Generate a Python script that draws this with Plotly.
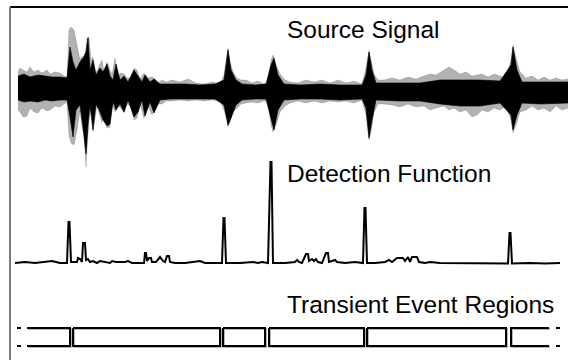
import plotly.graph_objects as go

# ---------------- data ----------------
# Source signal envelope: time (s), outer upper / lower amplitude
wave_t = [0.00,0.02,0.05,0.09,0.12,0.16,0.20,0.24,0.29,0.32,
          0.37,0.42,0.46,0.49,0.51,0.53,0.56,0.59,0.62,0.64,
          0.66,0.68,0.69,0.71,0.73,0.75,0.77,0.79,0.81,0.84,
          0.86,0.89,0.92,0.94,0.97,1.00,1.03,1.06,1.09,1.13,
          1.16,1.19,1.22,1.26,1.30,1.34,1.37,1.40,1.44,1.48,
          1.54,1.62,1.70,1.78,1.86,1.94,2.02,2.06,2.09,2.10,
          2.12,2.15,2.19,2.23,2.28,2.34,2.40,2.46,2.50,2.53,
          2.55,2.58,2.62,2.67,2.72,2.80,2.88,2.96,3.04,3.12,
          3.20,3.28,3.36,3.44,3.48,3.51,3.53,3.56,3.60,3.66,
          3.74,3.82,3.90,3.98,4.06,4.12,4.18,4.26,4.31,4.36,
          4.42,4.48,4.54,4.59,4.64,4.70,4.76,4.82,4.88,4.93,
          4.95,4.98,5.02,5.08,5.14,5.20,5.26,5.32,5.38,5.44,
          5.50]
wave_hi = [0.20,0.24,0.22,0.20,0.25,0.20,0.22,0.19,0.22,0.18,
           0.20,0.19,0.16,0.15,0.62,0.65,0.62,0.47,0.32,0.36,
           0.22,0.44,0.54,0.55,0.32,0.35,0.22,0.20,0.26,0.32,
           0.20,0.30,0.22,0.17,0.34,0.16,0.19,0.18,0.14,0.14,
           0.24,0.22,0.13,0.19,0.14,0.15,0.13,0.09,0.12,0.10,
           0.12,0.10,0.13,0.09,0.08,0.10,0.08,0.17,0.37,0.44,
           0.30,0.20,0.14,0.12,0.12,0.09,0.11,0.08,0.10,0.32,
           0.37,0.27,0.18,0.12,0.10,0.09,0.12,0.10,0.12,0.09,
           0.12,0.09,0.11,0.08,0.24,0.42,0.32,0.18,0.12,0.12,
           0.14,0.12,0.15,0.13,0.16,0.18,0.17,0.22,0.25,0.22,
           0.18,0.20,0.16,0.17,0.18,0.15,0.18,0.16,0.14,0.32,
           0.47,0.34,0.20,0.14,0.16,0.12,0.15,0.12,0.14,0.12,
           0.13]
wave_lo = [-0.18,-0.20,-0.25,-0.24,-0.16,-0.20,-0.21,-0.16,-0.19,-0.18,
           -0.14,-0.15,-0.12,-0.10,-0.43,-0.51,-0.53,-0.38,-0.18,-0.35,
           -0.43,-0.75,-0.58,-0.28,-0.16,-0.40,-0.26,-0.13,-0.21,-0.31,
           -0.16,-0.36,-0.35,-0.12,-0.20,-0.14,-0.16,-0.21,-0.12,-0.14,
           -0.28,-0.26,-0.12,-0.26,-0.14,-0.23,-0.16,-0.12,-0.12,-0.09,
           -0.09,-0.08,-0.09,-0.08,-0.09,-0.08,-0.09,-0.18,-0.28,-0.35,
           -0.30,-0.20,-0.16,-0.12,-0.11,-0.10,-0.11,-0.09,-0.10,-0.33,
           -0.40,-0.33,-0.20,-0.14,-0.11,-0.09,-0.11,-0.09,-0.11,-0.09,
           -0.10,-0.09,-0.11,-0.08,-0.23,-0.48,-0.40,-0.20,-0.12,-0.12,
           -0.13,-0.15,-0.12,-0.15,-0.14,-0.18,-0.16,-0.14,-0.18,-0.16,
           -0.20,-0.18,-0.25,-0.23,-0.18,-0.20,-0.16,-0.18,-0.14,-0.28,
           -0.41,-0.33,-0.20,-0.18,-0.14,-0.18,-0.16,-0.20,-0.14,-0.18,
           -0.16]

# Dense (dark) core of the source signal
core_t = [0.00,0.06,0.12,0.20,0.27,0.34,0.42,0.49,0.52,0.55,
          0.58,0.62,0.65,0.68,0.70,0.72,0.75,0.78,0.82,0.85,
          0.89,0.92,0.95,0.98,1.02,1.06,1.10,1.16,1.20,1.24,
          1.27,1.32,1.36,1.42,1.52,1.67,1.82,1.97,2.06,2.10,
          2.13,2.18,2.24,2.37,2.48,2.53,2.56,2.60,2.66,2.82,
          3.02,3.22,3.44,3.48,3.51,3.54,3.58,3.82,4.02,4.22,
          4.42,4.62,4.82,4.93,4.95,4.99,5.04,5.22,5.50]
core_hi = [0.16,0.18,0.15,0.17,0.16,0.15,0.15,0.14,0.45,0.30,
           0.22,0.30,0.34,0.40,0.54,0.22,0.32,0.17,0.24,0.20,
           0.28,0.16,0.12,0.28,0.12,0.16,0.10,0.22,0.16,0.10,
           0.17,0.10,0.13,0.08,0.08,0.08,0.07,0.08,0.12,0.42,
           0.22,0.12,0.08,0.07,0.08,0.27,0.34,0.17,0.08,0.07,
           0.08,0.07,0.07,0.17,0.40,0.22,0.09,0.09,0.09,0.12,
           0.12,0.12,0.11,0.27,0.45,0.22,0.10,0.10,0.10]
core_lo = [-0.08,-0.10,-0.09,-0.10,-0.08,-0.09,-0.08,-0.08,-0.25,-0.45,
           -0.18,-0.13,-0.35,-0.62,-0.33,-0.13,-0.38,-0.12,-0.20,-0.28,
           -0.34,-0.32,-0.10,-0.18,-0.12,-0.20,-0.08,-0.25,-0.20,-0.08,
           -0.24,-0.10,-0.21,-0.08,-0.07,-0.07,-0.07,-0.07,-0.13,-0.33,
           -0.26,-0.13,-0.08,-0.07,-0.07,-0.26,-0.38,-0.18,-0.08,-0.07,
           -0.07,-0.08,-0.07,-0.16,-0.46,-0.28,-0.08,-0.09,-0.09,-0.12,
           -0.14,-0.14,-0.11,-0.23,-0.38,-0.23,-0.11,-0.12,-0.11]

# Detection function
det_t = [-0.03,0.07,0.17,0.27,0.34,0.42,0.49,0.505,0.515,0.53,
         0.59,0.60,0.62,0.64,0.65,0.67,0.68,0.70,0.72,0.75,
         0.79,0.82,0.86,0.92,0.94,0.98,1.07,1.10,1.14,1.22,
         1.26,1.27,1.28,1.29,1.31,1.33,1.34,1.38,1.40,1.42,
         1.45,1.47,1.49,1.51,1.52,1.57,1.67,1.77,1.80,1.82,
         1.87,1.97,2.04,2.055,2.065,2.08,2.22,2.35,2.40,2.44,
         2.50,2.525,2.535,2.55,2.67,2.77,2.79,2.81,2.84,2.88,
         2.90,2.91,2.94,2.96,2.98,3.00,3.04,3.08,3.10,3.11,
         3.17,3.19,3.27,3.37,3.45,3.465,3.475,3.49,3.57,3.67,
         3.71,3.74,3.79,3.82,3.85,3.87,3.90,3.92,3.94,3.99,
         4.01,4.07,4.12,4.22,4.37,4.52,4.72,4.90,4.915,4.925,
         4.94,5.12,5.27,5.42]
det_v = [0.01,0.02,0.01,0.02,0.03,0.01,0.01,0.42,0.42,0.02,
         0.02,0.06,0.05,0.02,0.21,0.21,0.04,0.05,0.02,0.03,
         0.01,0.03,0.02,0.01,0.03,0.02,0.02,0.03,0.01,0.01,
         0.01,0.11,0.11,0.03,0.06,0.06,0.02,0.02,0.05,0.07,
         0.03,0.02,0.08,0.08,0.02,0.01,0.01,0.02,0.03,0.03,
         0.01,0.01,0.01,0.46,0.46,0.01,0.01,0.02,0.01,0.02,
         0.01,1.02,1.02,0.01,0.01,0.02,0.04,0.02,0.01,0.10,
         0.10,0.03,0.05,0.03,0.05,0.02,0.01,0.11,0.11,0.02,
         0.04,0.02,0.01,0.02,0.01,0.56,0.56,0.01,0.01,0.02,
         0.04,0.02,0.06,0.06,0.06,0.03,0.07,0.02,0.07,0.07,
         0.02,0.01,0.02,0.01,0.01,0.005,0.01,0.005,0.31,0.31,
         0.005,0.01,0.005,0.01]

# Transient event regions (s)
region_start = [0.09, 0.55, 2.05, 2.51, 3.49, 4.93]
region_end   = [0.52, 2.02, 2.47, 3.46, 4.88, 5.31]
lead_in_t  = [-0.01, 0.09]    # dashed continuation before first region
lead_out_t = [5.42, 5.31]     # dashed continuation after last region

panel_titles = ["Source Signal", "Detection Function", "Transient Event Regions"]

# ---------------- figure ----------------
fig = go.Figure()

# outer (gray halo) envelope
fig.add_trace(go.Scatter(x=wave_t, y=wave_hi, mode="lines",
                         line=dict(color="rgba(0,0,0,0.15)", width=1),
                         yaxis="y", hoverinfo="skip"))
fig.add_trace(go.Scatter(x=wave_t, y=wave_lo, mode="lines",
                         line=dict(color="rgba(0,0,0,0.15)", width=1),
                         fill="tonexty", fillcolor="rgba(0,0,0,0.30)",
                         yaxis="y", hoverinfo="skip"))
# dark core
fig.add_trace(go.Scatter(x=core_t, y=core_hi, mode="lines",
                         line=dict(color="rgba(0,0,0,0.8)", width=0.8),
                         yaxis="y", hoverinfo="skip"))
fig.add_trace(go.Scatter(x=core_t, y=core_lo, mode="lines",
                         line=dict(color="rgba(0,0,0,0.8)", width=0.8),
                         fill="tonexty", fillcolor="black",
                         yaxis="y", hoverinfo="skip"))

# detection function
fig.add_trace(go.Scatter(x=det_t, y=det_v, mode="lines",
                         line=dict(color="black", width=2),
                         yaxis="y2", hoverinfo="skip"))

# transient event regions (gray shadow + black outline)
n = len(region_start)
dx_shadow, dy_shadow = 0.01, -1 / 18
for layer in ("shadow", "outline"):
    for i, (s, e) in enumerate(zip(region_start, region_end)):
        if i == 0:
            xs, ys = [s, e, e, s], [1, 1, 0, 0]
        elif i == n - 1:
            xs, ys = [e, s, s, e], [1, 1, 0, 0]
        else:
            xs, ys = [s, e, e, s, s], [1, 1, 0, 0, 1]
        if layer == "shadow":
            xs = [v + dx_shadow for v in xs]
            ys = [v + dy_shadow for v in ys]
            ln = dict(color="#a0a0a0", width=1.5)
        else:
            ln = dict(color="black", width=2)
        fig.add_trace(go.Scatter(x=xs, y=ys, mode="lines", line=ln,
                                 yaxis="y3", hoverinfo="skip"))
for seg in (lead_in_t, lead_out_t):
    for lvl in (0, 1):
        fig.add_trace(go.Scatter(x=seg, y=[lvl, lvl], mode="lines",
                                 line=dict(color="black", width=2, dash="4px,20px"),
                                 yaxis="y3", hoverinfo="skip"))

font = dict(family="Liberation Sans, Arial, sans-serif", size=24.5, color="black")
fig.add_annotation(x=2.67, y=0.63, xref="x", yref="y", text=panel_titles[0],
                   showarrow=False, xanchor="left", yanchor="middle", font=font)
fig.add_annotation(x=2.67, y=0.905, xref="x", yref="y2", text=panel_titles[1],
                   showarrow=False, xanchor="left", yanchor="middle", font=font)
fig.add_annotation(x=2.67, y=2.33, xref="x", yref="y3", text=panel_titles[2],
                   showarrow=False, xanchor="left", yanchor="middle", font=font)

# frame lines (top black, left gray)
fig.add_shape(type="line", xref="paper", yref="paper", x0=0, x1=1, y0=1, y1=1,
              line=dict(color="black", width=2))
fig.add_shape(type="line", xref="paper", yref="paper", x0=0, x1=0, y0=0, y1=1,
              line=dict(color="#7a7a7a", width=2))

hidden = dict(visible=False, showgrid=False, zeroline=False, fixedrange=True)
fig.update_layout(
    width=568, height=360,
    margin=dict(l=10, r=0, t=7, b=0),
    paper_bgcolor="white", plot_bgcolor="white",
    showlegend=False,
    xaxis=dict(range=[-0.08, 5.50], **hidden),
    yaxis=dict(range=[-2.68, 0.85], **hidden),
    yaxis2=dict(range=[-0.96, 2.57], overlaying="y", **hidden),
    yaxis3=dict(range=[-0.7778, 18.8333], overlaying="y", **hidden),
)

fig.write_html("out.html")
